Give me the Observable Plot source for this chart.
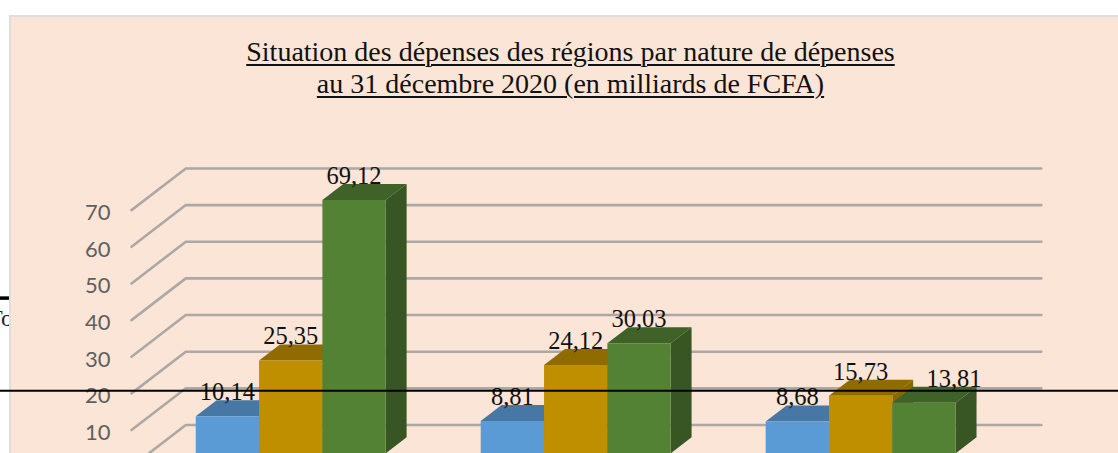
<!DOCTYPE html>
<html lang="fr">
<head>
<meta charset="utf-8">
<script src="https://cdn.jsdelivr.net/npm/d3@7"></script>
<script src="https://cdn.jsdelivr.net/npm/@observablehq/plot@0.6"></script>
<style>
html, body { margin: 0; padding: 0; background: #fff; overflow: hidden; }
#page { position: relative; width: 1118px; height: 453px; overflow: hidden; }
#panel { position: absolute; left: 9px; top: 15px; width: 1300px; height: 600px; box-sizing: border-box;
  background: #FBE5D6; border: 2px solid #DEDEDE; }
#stray { position: absolute; left: 0; top: 305px; width: 9px; height: 30px; overflow: hidden; }
#stray span { position: absolute; left: -12px; top: 0; white-space: nowrap; font: 24px "Liberation Serif", serif; color: #222; }
#title { position: relative; width: 1141px; height: 110px; box-sizing: border-box; padding-top: 36px; text-align: center;
  font: 28px/32px "Liberation Serif", serif; color: #111; text-decoration: underline; text-decoration-thickness: 1.5px; text-underline-offset: 3px; }
#chart { position: relative; }
#chart svg { display: block; background: transparent; }
</style>
</head>
<body>
<div id="page">
  <div id="panel"></div>
  <div id="stray"><span>To</span></div>
  <div id="title">Situation des dépenses des régions par nature de dépenses<br>au 31 décembre 2020 (en milliards de FCFA)</div>
  <div id="chart"></div>
</div>
<script>
// ---- values ----
const blueValues  = [10.14, 8.81, 8.68];
const goldValues  = [25.35, 24.12, 15.73];
const greenValues = [69.12, 30.03, 13.81];
const gridValues  = [0, 10, 20, 30, 40, 50, 60, 70];
const tickValues  = [10, 20, 30, 40, 50, 60, 70];

// ---- colours: [front, top, side] ----
const blueColors  = ["#5B9BD5", "#4777A5", "#3F6A93"];
const goldColors  = ["#BF8F00", "#8F6B00", "#8A6800"];
const greenColors = ["#548235", "#3F6228", "#375623"];

// ---- pseudo-3D layout, in scale units (x: one bar width; y: chart value) ----
const groupStep = 4.5;          // one group every 4.5 bar widths (150% gap)
const depthX = 0.857, depthY = 11.38;  // floor depth of the chart box
const barFront = 0.32, barBack = 0.705; // where bars sit within that depth
const gridLeft = -0.74, gridRight = 12.77;
const labelX13 = 30;

const series = [
  {values: blueValues, colors: blueColors},
  {values: goldValues, colors: goldColors},
  {values: greenValues, colors: greenColors}
];
const at = (x, v, t) => ({x: x + t * depthX, y: v + t * depthY});

const bars = series.flatMap((s, si) => s.values.map((value, gi) => ({
  value, colors: s.colors, x0: gi * groupStep + si, x1: gi * groupStep + si + 1
})));

const faces = bars.flatMap((b, i) => {
  const {x0, x1, value: v, colors} = b;
  const polys = [
    [at(x0, v, barFront), at(x1, v, barFront), at(x1, v, barBack), at(x0, v, barBack)],
    [at(x1, 0, barFront), at(x1, v, barFront), at(x1, v, barBack), at(x1, 0, barBack)],
    [at(x0, 0, barFront), at(x1, 0, barFront), at(x1, v, barFront), at(x0, v, barFront)]
  ];
  return polys.flatMap((pts, f) => pts.map(p => ({...p, id: i * 3 + f, color: colors[[1, 2, 0][f]]})));
});

const gridPoints = gridValues.flatMap(v => [
  {...at(gridLeft, v, 0), v},
  {...at(gridLeft, v, 1), v},
  {...at(gridRight, v, 1), v}
]);

const labels = bars.map(b => ({
  x: (b.x0 + b.x1) / 2 + barFront * depthX,
  y: b.value + barBack * depthY,
  text: b.value.toFixed(2).replace(".", ","),
  shift: b.value === 13.81 ? labelX13 : 0
}));

const serif = "Liberation Serif";
const labelMark = (data, dx) => Plot.text(data, {
  x: "x", y: "y", text: "text", dx, dy: 0, lineAnchor: "bottom",
  fontFamily: serif, fontSize: 24.5, fill: "#111"
});

const chart = Plot.plot({
  width: 1118, height: 343,
  margin: 0,
  style: {background: "transparent"},
  x: {domain: [-2.809, 14.846], axis: null},
  y: {domain: [3.6, 97.19], axis: null},
  marks: [
    Plot.line(gridPoints, {x: "x", y: "y", z: "v", stroke: "#ABA8A5", strokeWidth: 2.6, curve: "linear"}),
    Plot.line(faces, {x: "x", y: "y", z: "id", fill: "color", stroke: "none", curve: "linear"}),
    labelMark(labels.filter(d => d.shift === 0), 0),
    labelMark(labels.filter(d => d.shift !== 0), labelX13),
    Plot.axisY({ticks: tickValues, tickSize: 0, tickPadding: 0, dx: 110, dy: 3, label: null,
      fontFamily: "Lato", fontSize: 22, color: "#5F5F5F"}),
    Plot.ruleY([20.74], {stroke: "#000", strokeWidth: 2}),
    Plot.ruleY([46], {x1: -2.809, x2: -2.667, stroke: "#000", strokeWidth: 3.5})
  ]
});
document.getElementById("chart").append(chart);
</script>
</body>
</html>
